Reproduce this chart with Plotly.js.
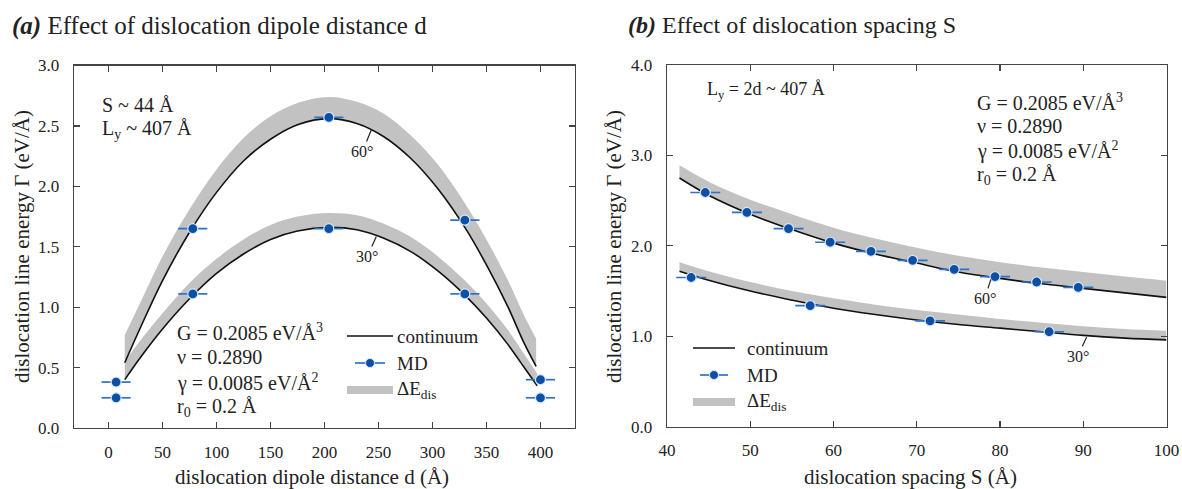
<!DOCTYPE html>
<html><head><meta charset="utf-8">
<script src="https://cdn.plot.ly/plotly-3.0.1.min.js"></script>
<style>html,body{margin:0;padding:0;background:#fff}</style>
</head><body>
<div id="chart" style="width:1182px;height:489px"></div>
<script>
// ---------- Panel (a): effect of dipole distance d ----------
const dLine60 = [15,30,50,75,100,125,150,175,204,230,255,280,305,330,350,370,385,396];
const gLine60 = [0.54,0.84,1.22,1.62,1.95,2.21,2.39,2.51,2.56,2.52,2.41,2.23,1.98,1.66,1.35,1.00,0.70,0.51];
const gBand60 = [0.77,1.05,1.42,1.81,2.14,2.40,2.58,2.69,2.74,2.70,2.60,2.42,2.18,1.86,1.56,1.22,0.93,0.74];
const dLine30 = [15,30,50,75,100,125,150,175,204,230,255,280,305,330,350,370,385,397];
const gLine30 = [0.40,0.59,0.82,1.07,1.28,1.44,1.56,1.63,1.66,1.64,1.57,1.46,1.30,1.10,0.91,0.69,0.50,0.35];
const gBand30 = [0.55,0.73,0.95,1.20,1.40,1.56,1.68,1.75,1.78,1.76,1.69,1.58,1.42,1.22,1.03,0.81,0.61,0.45];
const dMD = [7, 78, 204, 330, 400];
const gMD60 = [0.38, 1.65, 2.57, 1.72, 0.40];
const gMD30 = [0.25, 1.11, 1.65, 1.11, 0.25];
const dErr = 13.5;
const xTicksA = [0,50,100,150,200,250,300,350,400];
const yTicksA = [0,0.5,1,1.5,2,2.5,3];

// ---------- Panel (b): effect of dislocation spacing S ----------
const sLine = [41.5,45,50,55,60,65,70,75,80,85,90,95,100];
const sLine60 = [2.75,2.56,2.35,2.18,2.03,1.91,1.81,1.71,1.64,1.58,1.53,1.48,1.43];
const sBand60 = [2.89,2.71,2.51,2.35,2.20,2.08,1.98,1.89,1.82,1.76,1.71,1.66,1.615];
const sLine30 = [1.72,1.62,1.50,1.40,1.31,1.24,1.18,1.13,1.09,1.05,1.01,0.98,0.96];
const sBand30 = [1.82,1.72,1.60,1.50,1.42,1.35,1.29,1.24,1.19,1.15,1.11,1.08,1.06];
const sMD60 = [44.6,49.6,54.6,59.6,64.5,69.5,74.5,79.4,84.4,89.4];
const gSMD60 = [2.59,2.37,2.19,2.04,1.94,1.84,1.74,1.66,1.60,1.54];
const sMD30 = [42.9,57.2,71.6,85.9];
const gSMD30 = [1.65,1.34,1.17,1.05];
const sErr = 1.8;
const xTicksB = [40,50,60,70,80,90,100];
const yTicksB = [0,1,2,3,4];

const W = 1182, H = 489;
const px = v => v / W, py = v => 1 - v / H;
const FONT = '"Liberation Serif", "Times New Roman", Times, serif';
const TXT = '#222';
const BAND = '#c2c2c2';
const LINE = '#111';
const BLUE = '#0c4fa3';
const EBLUE = '#2f72c4';

function band(x, lo, hi, xa, ya) {
  return [
    {x: x, y: lo, xaxis: xa, yaxis: ya, mode: 'lines', line: {width: 0, shape: 'spline', color: BAND}, hoverinfo: 'skip', showlegend: false},
    {x: x, y: hi, xaxis: xa, yaxis: ya, mode: 'lines', fill: 'tonexty', fillcolor: BAND, line: {width: 0, shape: 'spline', color: BAND}, hoverinfo: 'skip', showlegend: false}
  ];
}
function cont(x, y, xa, ya) {
  return {x: x, y: y, xaxis: xa, yaxis: ya, mode: 'lines', line: {color: LINE, width: 1.6, shape: 'spline'}, showlegend: false};
}
function md(x, y, err, xa, ya) {
  return {x: x, y: y, xaxis: xa, yaxis: ya, mode: 'markers',
    marker: {size: 10, color: BLUE, line: {color: '#d6e6ff', width: 1.2}},
    error_x: {type: 'constant', value: err, width: 0, thickness: 1.7, color: EBLUE},
    showlegend: false};
}

const data = [
  ...band(dLine60, gLine60, gBand60, 'x', 'y'),
  ...band(dLine30, gLine30, gBand30, 'x', 'y'),
  cont(dLine60, gLine60, 'x', 'y'),
  cont(dLine30, gLine30, 'x', 'y'),
  md(dMD, gMD60, dErr, 'x', 'y'),
  md(dMD, gMD30, dErr, 'x', 'y'),
  ...band(sLine, sLine60, sBand60, 'x2', 'y2'),
  ...band(sLine, sLine30, sBand30, 'x2', 'y2'),
  cont(sLine, sLine60, 'x2', 'y2'),
  cont(sLine, sLine30, 'x2', 'y2'),
  md(sMD60, gSMD60, sErr, 'x2', 'y2'),
  md(sMD30, gSMD30, sErr, 'x2', 'y2')
];

const axisCommon = {
  showline: true, linecolor: '#444', linewidth: 1.3, mirror: 'allticks',
  ticks: 'inside', ticklen: 6, tickwidth: 1.2, tickcolor: '#444',
  showgrid: false, zeroline: false,
  tickfont: {family: FONT, size: 17, color: TXT}
};

function ann(text, x, y, opts) {
  return Object.assign({text: text, xref: 'paper', yref: 'paper', x: px(x), y: py(y),
    xanchor: 'left', yanchor: 'middle', showarrow: false,
    font: {family: FONT, size: 20, color: TXT}}, opts || {});
}
function angle(text, x, y, xa, ya, ax, ay) {
  return {text: text, x: x, y: y, xref: xa, yref: ya, ax: ax, ay: ay, showarrow: true,
    arrowhead: 0, arrowwidth: 1.2, arrowcolor: '#222', standoff: 0,
    font: {family: FONT, size: 16, color: TXT}};
}

const annotations = [
  ann('<b><i>(a)</i></b> Effect of dislocation dipole distance d', 10, 26, {font: {family: FONT, size: 25, color: TXT}}),
  ann('<b><i>(b)</i></b> Effect of dislocation spacing S', 626, 25, {font: {family: FONT, size: 24, color: TXT}}),
  ann('dislocation dipole distance d (Å)', 312, 477, {xanchor: 'center', font: {family: FONT, size: 21, color: TXT}}),
  ann('dislocation spacing S (Å)', 910, 477, {xanchor: 'center', font: {family: FONT, size: 21, color: TXT}}),
  ann('dislocation line energy Γ (eV/Å)', 22, 247, {xanchor: 'center', textangle: -90, font: {family: FONT, size: 21, color: TXT}}),
  ann('dislocation line energy Γ (eV/Å)', 614, 247, {xanchor: 'center', textangle: -90, font: {family: FONT, size: 21, color: TXT}}),
  // panel a texts
  ann('S ~ 44 Å', 100, 105),
  ann('L<sub>y</sub> ~ 407 Å', 100, 129),
  ann('G = 0.2085 eV/Å<sup>3</sup>', 175, 332),
  ann('ν = 0.2890', 175, 357),
  ann('γ = 0.0085 eV/Å<sup>2</sup>', 175, 382),
  ann('r<sub>0</sub> = 0.2 Å', 175, 407),
  // panel b texts
  ann('L<sub>y</sub> = 2d ~ 407 Å', 705, 90, {font: {family: FONT, size: 18, color: TXT}}),
  ann('G = 0.2085 eV/Å<sup>3</sup>', 975, 102),
  ann('ν = 0.2890', 975, 126),
  ann('γ = 0.0085 eV/Å<sup>2</sup>', 975, 150),
  ann('r<sub>0</sub> = 0.2 Å', 975, 175),
  // legends
  ann('continuum', 395, 336, {font: {family: FONT, size: 19, color: TXT}}),
  ann('MD', 395, 363, {font: {family: FONT, size: 19, color: TXT}}),
  ann('ΔE<sub>dis</sub>', 395, 390, {font: {family: FONT, size: 19, color: TXT}}),
  ann('continuum', 745, 348, {font: {family: FONT, size: 19, color: TXT}}),
  ann('MD', 745, 375, {font: {family: FONT, size: 19, color: TXT}}),
  ann('ΔE<sub>dis</sub>', 745, 402, {font: {family: FONT, size: 19, color: TXT}}),
  // angle labels
  angle('60°', 243.5, 2.47, 'x', 'y', -9, 22),
  angle('30°', 248, 1.585, 'x', 'y', -9, 20),
  angle('60°', 78.9, 1.63, 'x2', 'y2', -6, 19),
  angle('30°', 90.4, 0.99, 'x2', 'y2', -9, 19)
];

function legendShapes(x0, x1, yc, yMD, yBand, mx0, mx1) {
  return [
    {type: 'line', xref: 'paper', yref: 'paper', x0: px(x0), x1: px(x1), y0: py(yc), y1: py(yc), line: {color: LINE, width: 1.6}},
    {type: 'line', xref: 'paper', yref: 'paper', x0: px(mx0), x1: px(mx1), y0: py(yMD), y1: py(yMD), line: {color: EBLUE, width: 1.7}},
    {type: 'circle', xref: 'paper', yref: 'paper', xsizemode: 'pixel', ysizemode: 'pixel',
      xanchor: px((mx0 + mx1) / 2), yanchor: py(yMD), x0: -4.5, x1: 4.5, y0: -4.5, y1: 4.5,
      fillcolor: BLUE, line: {color: '#d6e6ff', width: 1}},
    {type: 'line', xref: 'paper', yref: 'paper', x0: px(x0), x1: px(x1), y0: py(yBand), y1: py(yBand), line: {color: BAND, width: 8}}
  ];
}

const layout = {
  width: W, height: H, margin: {l: 0, r: 0, t: 0, b: 0},
  paper_bgcolor: '#fff', plot_bgcolor: '#fff', showlegend: false,
  font: {family: FONT, color: TXT},
  xaxis: Object.assign({}, axisCommon, {domain: [px(74), px(575)], range: [-32, 432], anchor: 'y',
    tickvals: xTicksA, ticklabelstandoff: 8}),
  yaxis: Object.assign({}, axisCommon, {domain: [py(428), py(65.5)], range: [0, 3], anchor: 'x',
    tickvals: yTicksA, tickformat: '.1f', ticklabelstandoff: 10}),
  xaxis2: Object.assign({}, axisCommon, {domain: [px(667), px(1166.5)], range: [40, 100], anchor: 'y2',
    tickvals: xTicksB, ticklabelstandoff: 8}),
  yaxis2: Object.assign({}, axisCommon, {domain: [py(426.7), py(65)], range: [0, 4], anchor: 'x2',
    tickvals: yTicksB, tickformat: '.1f', ticklabelstandoff: 10}),
  annotations: annotations,
  shapes: [
    ...legendShapes(347, 393, 336, 363, 390, 355, 385),
    ...legendShapes(693, 735, 348, 375, 402, 700, 728)
  ]
};

Plotly.newPlot('chart', data, layout, {staticPlot: true, displayModeBar: false});
</script>
</body></html>
